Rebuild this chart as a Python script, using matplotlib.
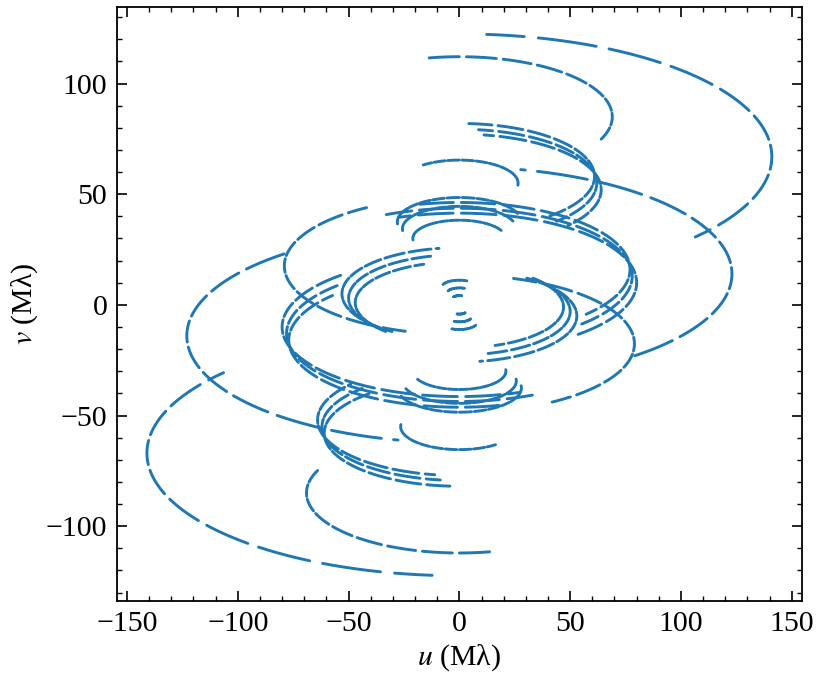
"""uv-coverage plot: baseline tracks (and their conjugates) in the u-v plane."""

import numpy as np
import matplotlib
matplotlib.use("Agg")
import matplotlib.pyplot as plt
from matplotlib.ticker import MultipleLocator

# one entry per baseline track: u semi-axis (Mλ), v centre (Mλ), first / last phase (deg)
TRACK_NAMES = ["A", "B", "C", "E", "F", "D1", "D2", "D3", "G1", "G2", "G3",
               "K1", "K2", "K3", "H1", "H2", "H3", "I1", "I2", "I3"]
U_SEMI = [141, 123, 79, 69, 26.5, 61, 62, 64, 80, 78, 77,
          28, 25.7, 21, 53, 50, 47, 8, 5.5, 3]
V_CENTRE = [-67, 14, 17.6, 85, 55, 58, 55, 52, -10, -13, -16,
            37.5, 34.4, 30, 5, 3, 1, 8, 5.5, 3]
PHASE_START = [-175, 13, -162, -14, -38, 4, 8, 10, -200, -205, -195,
               -95, -95, -95, -145, -140, -135, -70, -70, -60]
PHASE_END = [-49, 140, -32, 112, 95, 138, 135, 130, -42, -45, -48,
             70, 70, 64, -10, -15, -20, 25, 25, 20]

AXIS_RATIO = 0.393      # v/u axis ratio of every track (sin of declination)
SCAN_DEG, GAP_DEG = 14.0, 2.6

plt.rcParams["font.family"] = ["Liberation Serif", "DejaVu Serif"]
plt.rcParams["mathtext.fontset"] = "stix"

fig = plt.figure(figsize=(8.24, 6.81), dpi=100)
ax = fig.add_axes([0.142, 0.1175, 0.831, 0.8723])

for a, v0, t0, t1 in zip(U_SEMI, V_CENTRE, PHASE_START, PHASE_END):
    th = np.linspace(t0, t1, 3000)
    u = a * np.sin(np.radians(th))
    v = v0 + AXIS_RATIO * a * np.cos(np.radians(th))
    gap = (th % SCAN_DEG) < GAP_DEG
    u[gap] = np.nan
    v[gap] = np.nan
    for sgn in (1, -1):
        ax.plot(sgn * u, sgn * v, color="#1f77b4", lw=2.1, solid_capstyle="round")

ax.set_xlim(-154.5, 154.5)
ax.set_ylim(-133.8, 134.6)
ax.xaxis.set_major_locator(MultipleLocator(50))
ax.yaxis.set_major_locator(MultipleLocator(50))
ax.xaxis.set_minor_locator(MultipleLocator(10))
ax.yaxis.set_minor_locator(MultipleLocator(10))
ax.tick_params(which="both", direction="in", top=True, right=True, labelsize=21.5, pad=7)
ax.tick_params(which="major", length=7, width=1.2)
ax.tick_params(which="minor", length=3.5, width=1.0)
for s in ax.spines.values():
    s.set_linewidth(1.3)
ax.set_xlabel("$u$ (Mλ)", fontsize=21.5, labelpad=4)
ax.set_ylabel("$v$ (Mλ)", fontsize=21.5, labelpad=4)

fig.savefig("out.png", dpi=100)
